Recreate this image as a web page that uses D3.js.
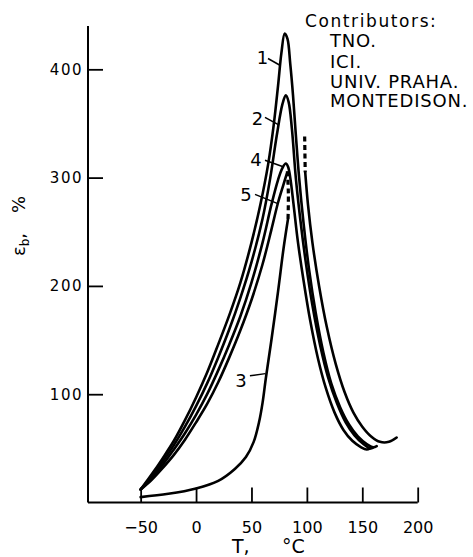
<!DOCTYPE html>
<html><head><meta charset="utf-8">
<script src="https://cdn.jsdelivr.net/npm/d3@7"></script>
<style>body{margin:0;background:#fff}svg{display:block}</style>
</head><body><svg id="c" width="473" height="557"></svg>
<script>
const xTicks=[-50,0,50,100,150,200];
const yTicks=[100,200,300,400];
const legendTitle="Contributors:";
const contributors=["TNO.","ICI.","UNIV. PRAHA.","MONTEDISON."];
// [T (°C), elongation at break (%)]
const curve1=[[-50,12],[-40,26],[-30,41],[-20,57],[-10,76],[0,97],[10,120],[20,146],[30,173],[40,203],[50,240],[58,275],[65,312],[70,348],[74,385],[77,415],[80,433],[82.5,428],[85,405],[87.5,376],[90,340],[93,300],[97,258],[102,215],[108,175],[115,138],[122,110],[130,88],[138,72],[146,61],[154,54],[160,51],[163,52]];
const curve2=[[-50,12],[-40,24],[-30,38],[-20,53],[-10,70],[0,89],[10,110],[20,134],[30,160],[40,189],[50,222],[60,262],[67,300],[73,340],[78,368],[81,376],[83.5,370],[86.5,345],[90,300],[94,262],[99,222],[105,182],[112,145],[119,116],[127,92],[135,74],[143,62],[151,54],[157,50],[160,51]];
const curve3=[[-50,5],[-25,8],[0,13],[20,20],[35,31],[45,42],[52,56],[57,75],[60,92],[63,115],[68,150],[74,195],[79,235],[83,262]];
const curve3Dash=[[83,262],[83.3,285],[82.3,308]];
const curve4=[[-50,12],[-40,23],[-30,35],[-20,49],[-10,64],[0,81],[10,100],[20,122],[30,146],[40,172],[50,203],[60,240],[68,275],[74,298],[78,309],[81,313],[83,310],[85,300],[88,275],[92,240],[97,205],[103,168],[110,133],[117,106],[125,83],[133,67],[141,57],[149,51],[154,49],[157,50]];
const curve5=[[-50,12],[-40,21],[-30,32],[-20,44],[-10,58],[0,74],[10,91],[20,111],[30,134],[40,159],[50,187],[60,220],[68,252],[74,277],[79,294],[82,304]];
const curve5Dash=[[98,338],[98.5,305]];
const curve5Right=[[98.5,305],[101,275],[105,240],[111,200],[118,162],[126,128],[134,102],[142,83],[150,70],[158,61],[166,56],[174,56],[181,60]];
const curveLabels=[
  {t:"1",at:[59.9,411],from:[64.9,410],to:[75.3,404]},
  {t:"2",at:[55.4,354.7],from:[62.2,355.7],to:[74.2,349]},
  {t:"4",at:[54,316.9],from:[62.2,316],to:[78.6,310]},
  {t:"5",at:[45,284.5],from:[53.2,284.5],to:[73.8,276]},
  {t:"3",at:[40.5,112.7],from:[48.6,117],to:[62.6,119]}
];

const svg=d3.select("#c");
const x=d3.scaleLinear().domain([-97.5,200]).range([88,417.7]);
const y=d3.scaleLinear().domain([0,440]).range([502.5,26]);
const font="'DejaVu Sans', sans-serif";

// axes
const xAxis=d3.axisBottom(x).tickValues(xTicks).tickSize(-15).tickSizeOuter(0).tickFormat(d=>d<0?"\u2212"+Math.abs(d):d);
const gx=svg.append("g").attr("transform",`translate(0,${y(0)})`).call(xAxis);
gx.select(".domain").attr("stroke","#000").attr("stroke-width",2).attr("d",`M${x(-97.5)},0H${x(200)}`);
gx.selectAll(".tick line").attr("stroke","#000").attr("stroke-width",1.8);
gx.selectAll(".tick text").attr("y",19).attr("font-family",font).attr("font-size",16).attr("fill","#000");

const yAxis=d3.axisLeft(y).tickValues(yTicks).tickSize(-15).tickSizeOuter(0);
const gy=svg.append("g").attr("transform",`translate(${x(-97.5)},0)`).call(yAxis);
gy.select(".domain").attr("stroke","#000").attr("stroke-width",2).attr("d",`M0,${y(440)}V${y(0)}`);
gy.selectAll(".tick line").attr("stroke","#000").attr("stroke-width",1.8);
gy.selectAll(".tick text").attr("x",-5).attr("font-family",font).attr("font-size",15).attr("letter-spacing","1.5px").attr("fill","#000");

// axis titles
svg.append("text").attr("x",232).attr("y",553).attr("font-family",font).attr("font-size",19).text("T,");
svg.append("text").attr("x",282).attr("y",553).attr("font-family",font).attr("font-size",19).text("°C");
const yt=svg.append("text").attr("transform","translate(25,226) rotate(-90)").attr("text-anchor","middle").attr("font-family",font).attr("font-size",18);
yt.append("tspan").text("ε");
yt.append("tspan").attr("font-size",12).attr("dy",4).text("b");
yt.append("tspan").attr("dy",-4).text(",");
yt.append("tspan").attr("dx",20).text("%");

// curves
const line=d3.line().x(d=>x(d[0])).y(d=>y(d[1])).curve(d3.curveCatmullRom.alpha(0.5));
const solid=[curve1,curve2,curve3,curve4,curve5,curve5Right];
svg.append("g").selectAll("path").data(solid).join("path")
  .attr("d",line).attr("fill","none").attr("stroke","#000").attr("stroke-width",2.6).attr("stroke-linejoin","round").attr("stroke-linecap","round");
svg.append("g").selectAll("path").data([curve3Dash,curve5Dash]).join("path")
  .attr("d",line).attr("fill","none").attr("stroke","#000").attr("stroke-width",3.2).attr("stroke-dasharray","5,3.5");

// curve labels
const lg=svg.append("g");
curveLabels.forEach(l=>{
  lg.append("text").attr("x",x(l.at[0])).attr("y",y(l.at[1])).attr("text-anchor","middle").attr("dominant-baseline","central")
    .attr("font-family",font).attr("font-size",18).text(l.t);
  lg.append("line").attr("x1",x(l.from[0])).attr("y1",y(l.from[1])).attr("x2",x(l.to[0])).attr("y2",y(l.to[1]))
    .attr("stroke","#000").attr("stroke-width",1.5);
});

// contributors note
svg.append("text").attr("x",305).attr("y",27).attr("font-family",font).attr("font-size",17).attr("letter-spacing","1.6px").text(legendTitle);
const base=[47,68,88,107];
svg.append("g").selectAll("text").data(contributors).join("text")
  .attr("x",330).attr("y",(d,i)=>base[i]).attr("font-family",font).attr("font-size",18).attr("letter-spacing","0.8px").text(d=>d);
</script></body></html>
